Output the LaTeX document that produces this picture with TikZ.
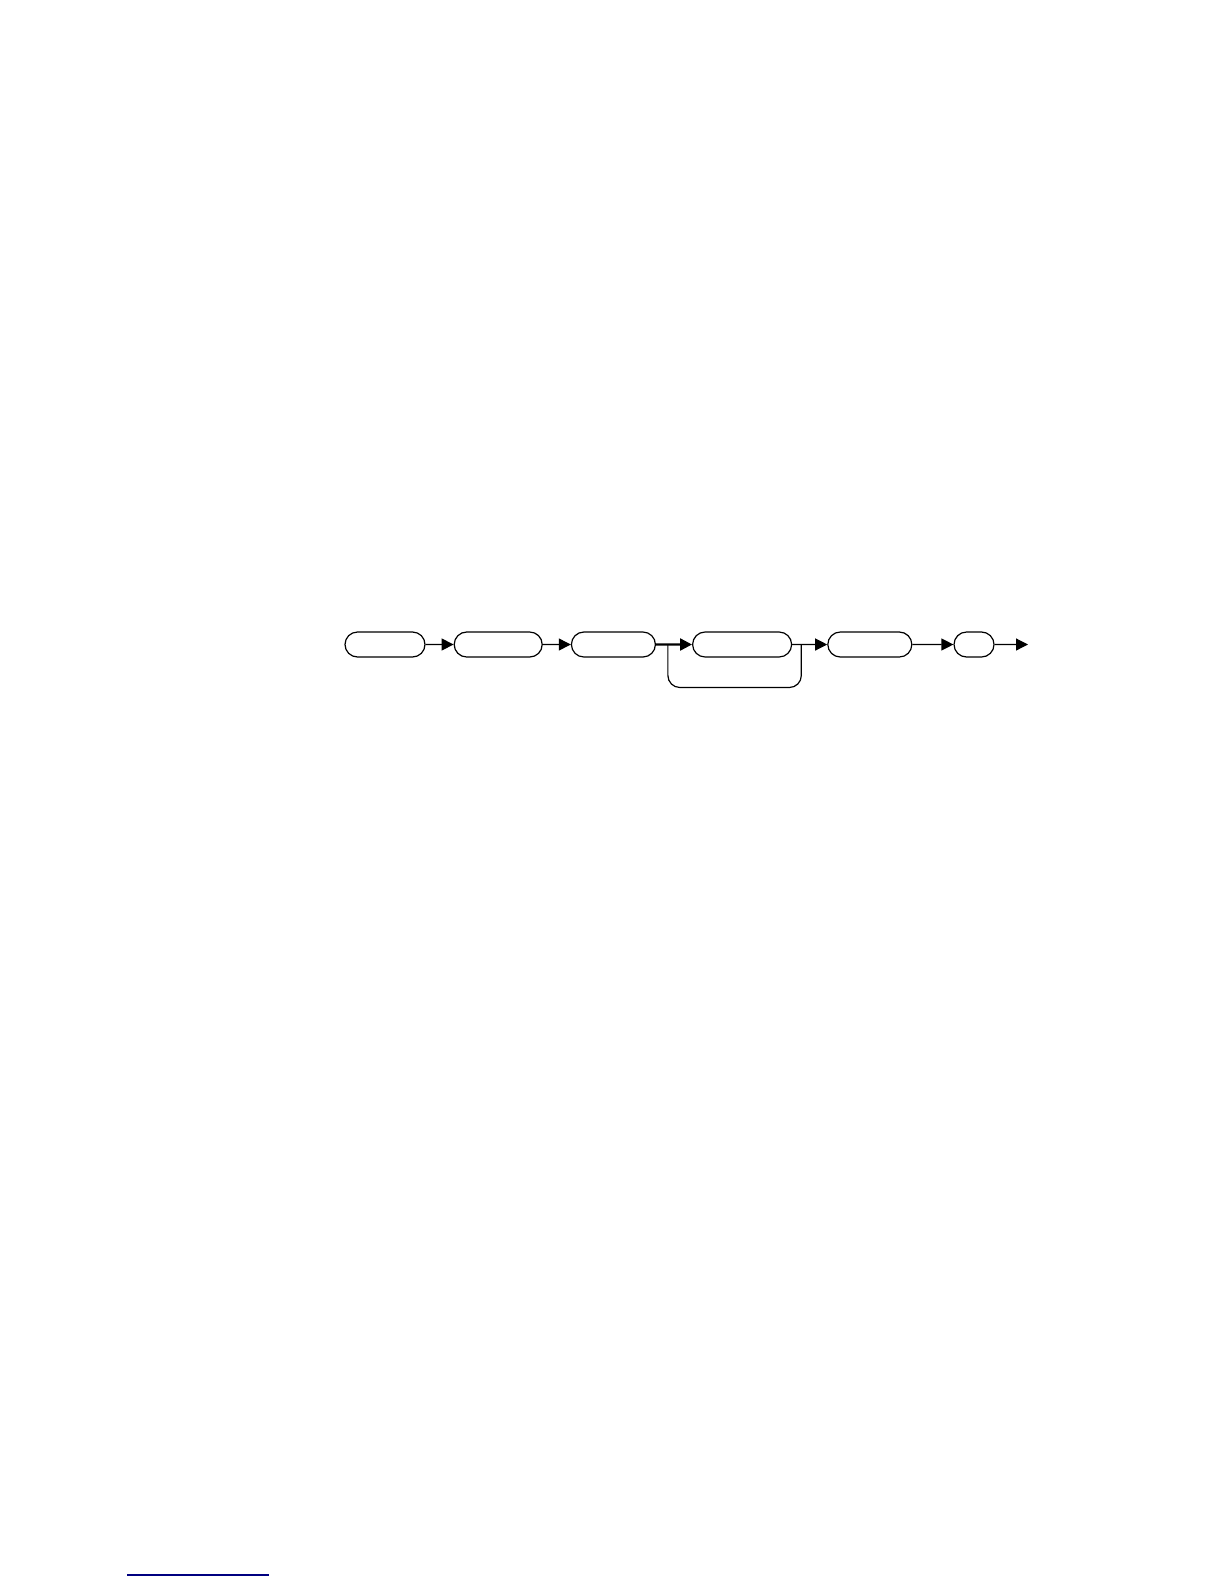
\documentclass[tikz,border=0pt]{standalone}
\usepackage{tikz}
\usetikzlibrary{arrows.meta,calc,positioning,shapes.misc}

\begin{document}
\begin{tikzpicture}[x=0.5bp,y=-0.5bp,node distance=14bp,
    box/.style={rounded rectangle,draw,line width=0.6bp,minimum height=12.5bp,inner sep=0pt},
    >={Triangle[length=6bp,width=6bp]},line width=0.6bp]
    \useasboundingbox (0,0) rectangle (1224,1584);
    \node[box,minimum width=40bp] (b_1) at (385,644.5) {};
    \node[box,minimum width=44bp] (b_2) [right=of b_1] {};
    \node[box,minimum width=42bp] (b_3) [right=of b_2] {};
    \node[box,minimum width=49.5bp] (b_4) [right=18bp of b_3] {};
    \node[box,minimum width=42bp] (b_5) [right=17.5bp of b_4] {};
    \node[box,minimum width=20bp] (b_6) [right=20.5bp of b_5] {};
    \coordinate (out) at (1028,644.5);
    \coordinate (l_a) at ($(b_3.east)!0.33!(b_4.west)$);
    \coordinate (l_b) at ($(b_4.east)!0.26!(b_5.west)$);
    \path[->]
    (b_1) edge (b_2)
    (b_2) edge (b_3)
    (b_3) edge [line width=1.2bp] (b_4)
    (b_4) edge (b_5)
    (b_5) edge (b_6)
    (b_6) edge (out);
    % loop round the fourth step
    \draw[rounded corners=6bp] (l_a) -- ++(0,43) -| (l_b);
    % footnote rule
    \draw[blue!50!black,line width=0.8bp] (127,1575) -- (269,1575);
\end{tikzpicture}
\end{document}
